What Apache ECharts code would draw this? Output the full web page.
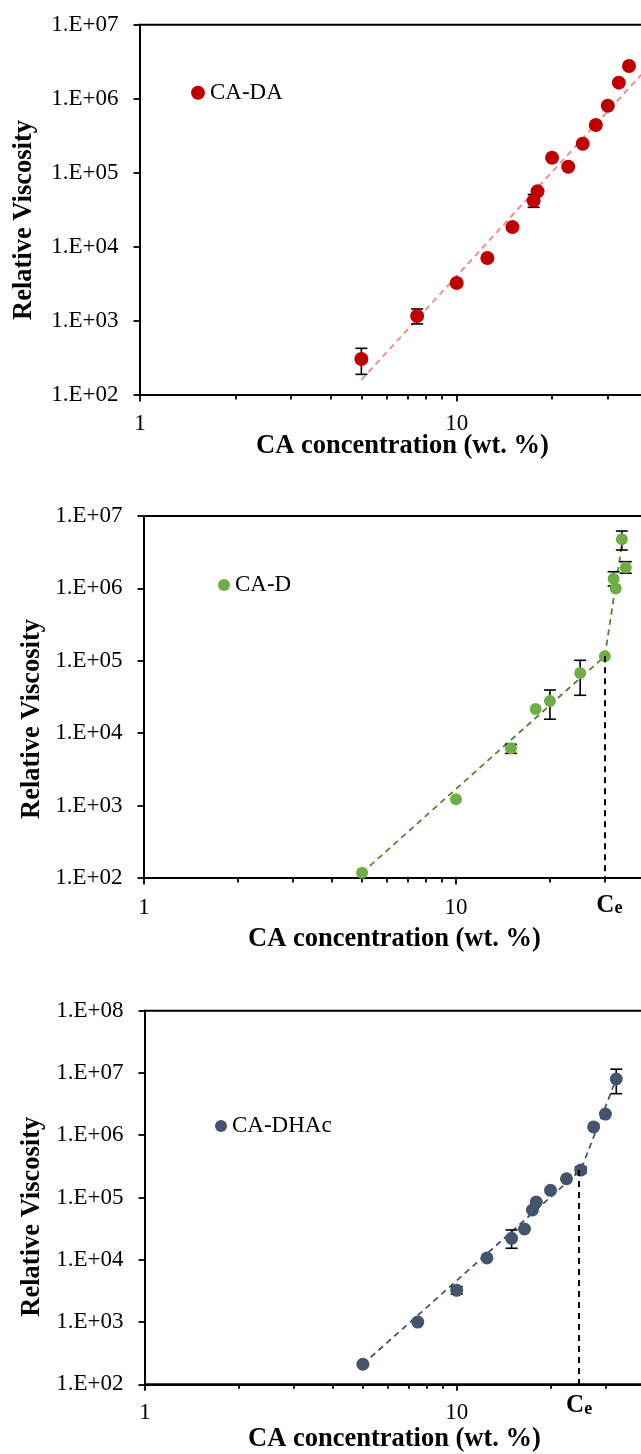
<!DOCTYPE html>
<html><head><meta charset="utf-8">
<script src="https://cdn.jsdelivr.net/npm/echarts@6/dist/echarts.min.js"></script>
<style>html,body{margin:0;padding:0;background:#fff}#c{width:641px;height:1454px}</style>
</head><body><div id="c"></div>
<script>
// ---------------- data ----------------
const xMajorTicks = [1, 10, 100];
const xMinorTicks = [2, 3, 4, 5, 6, 7, 8, 9, 20, 30, 40, 50, 60, 70, 80, 90];
const xTickLabels = [1, 10];
const yTicksA = [1e2, 1e3, 1e4, 1e5, 1e6, 1e7];
const yTicksC = [1e2, 1e3, 1e4, 1e5, 1e6, 1e7, 1e8];

// CA-DA
const daConc = [5, 7.5, 10, 12.5, 15, 17.5, 18, 20, 22.5, 25, 27.5, 30, 32.5, 35];
const daVisc = [306, 1166, 3250, 7080, 18500, 42000, 56200, 160000, 121000, 247000, 443000, 806000, 1650000, 2770000];
const daErr = [[5, 190, 427], [7.5, 910, 1450], [17.5, 34200, 51000]];
const daFit = [[5, 160], [40, 2600000]];

// CA-D
const dConc = [5, 10, 15, 18, 20, 25, 30, 32, 32.5, 34, 35];
const dVisc = [118, 1220, 6180, 21600, 27900, 67800, 116000, 1360000, 1000000, 4760000, 1950000];
const dErr = [[15, 5270, 7030], [20, 15600, 39500], [25, 33400, 101600], [32, 1080000, 1700000], [34, 3390000, 6200000], [35, 1620000, 2340000]];
const dFit = [[5, 118], [30, 116000], [34.2, 4700000]];
const dCe = [30, 116000];

// CA-DHAc
const hConc = [5, 7.5, 10, 12.5, 15, 16.5, 17.5, 18, 20, 22.5, 25, 27.5, 30, 32.5];
const hVisc = [210, 1000, 3230, 10700, 22100, 31200, 63000, 84700, 130500, 200000, 276000, 1360000, 2190000, 8000000];
const hErr = [[10, 2800, 3700], [15, 15300, 30100], [25, 245000, 310000], [32.5, 4650000, 11500000]];
const hFit = [[5, 210], [25, 276000], [32.5, 8000000]];
const hCe = [24.7, 276000];

const xTitle = 'CA concentration (wt. %)';
const yTitle = 'Relative Viscosity';

// ---------------- styles / layout ----------------
const FONT = 'Liberation Serif';
const panels = [
  { name: 'CA-DA', conc: daConc, visc: daVisc, err: daErr, fit: daFit, ce: null, yTicks: yTicksA,
    grid: { left: 140, top: 24.7, width: 633.4, height: 370.3 },
    color: '#C00000', fitColor: '#F58484', size: 14, legendSize: 14,
    legend: { left: 191, top: 81.2 }, xT: [256, 446], yT: [24.5, 220], labelMargin: 17 },
  { name: 'CA-D', conc: dConc, visc: dVisc, err: dErr, fit: dFit, ce: dCe, yTicks: yTicksA,
    grid: { left: 144, top: 516, width: 624, height: 362 },
    color: '#70AD47', fitColor: '#548235', size: 12, legendSize: 12,
    legend: { left: 218, top: 573.5 }, xT: [248, 939.5], yT: [32.5, 719], labelMargin: 18,
    ceDist: 14.6, cePad: 9 },
  { name: 'CA-DHAc', conc: hConc, visc: hVisc, err: hErr, fit: hFit, ce: hCe, yTicks: yTicksC,
    grid: { left: 145, top: 1010.7, width: 623.4, height: 373.6 },
    color: '#44546A', fitColor: '#44546A', size: 13, legendSize: 12,
    legend: { left: 215, top: 1114.5 }, xT: [248, 1439.5], yT: [32.5, 1216.7], labelMargin: 17.5,
    ceDist: 8.6, cePad: 0 }
];

function yFmt(v) {
  const e = Math.round(Math.log10(v));
  return '1.E+' + (e < 10 ? '0' : '') + e;
}

function errRender(params, api) {
  const x = api.value(0), lo = api.value(1), hi = api.value(2);
  const a = api.coord([x, lo]), b = api.coord([x, hi]);
  const cap = 6;
  const st = { stroke: '#000', lineWidth: 1.6 };
  return { type: 'group', children: [
    { type: 'line', shape: { x1: a[0], y1: a[1], x2: b[0], y2: b[1] }, style: st },
    { type: 'line', shape: { x1: a[0] - cap, y1: a[1], x2: a[0] + cap, y2: a[1] }, style: st },
    { type: 'line', shape: { x1: b[0] - cap, y1: b[1], x2: b[0] + cap, y2: b[1] }, style: st }
  ] };
}

const option = { animation: false, backgroundColor: '#fff', grid: [], xAxis: [], yAxis: [], series: [], legend: [], graphic: [] };

panels.forEach((p, i) => {
  option.grid.push(Object.assign({ show: true, borderColor: '#000', borderWidth: 2, backgroundColor: 'transparent',
    containLabel: false, outerBoundsMode: 'none' }, p.grid));
  const lineSt = { color: '#000', width: 2 };
  option.xAxis.push({
    type: 'log', logBase: 10, min: 1, max: 100, gridIndex: i, position: 'bottom',
    axisLine: { show: true, lineStyle: lineSt },
    axisTick: { show: true, length: 6.5, lineStyle: { color: '#000', width: 1.8 }, customValues: xMajorTicks },
    axisLabel: { show: true, customValues: xTickLabels, margin: p.labelMargin, fontFamily: FONT, fontSize: 23, color: '#000' },
    splitLine: { show: false }
  });
  option.xAxis.push({
    type: 'log', logBase: 10, min: 1, max: 100, gridIndex: i, position: 'bottom',
    axisLine: { show: false },
    axisTick: { show: true, length: 4.5, lineStyle: { color: '#000', width: 1.8 }, customValues: xMinorTicks },
    axisLabel: { show: false },
    splitLine: { show: false }
  });
  option.yAxis.push({
    type: 'log', logBase: 10, min: p.yTicks[0], max: p.yTicks[p.yTicks.length - 1], gridIndex: i,
    axisLine: { show: true, lineStyle: lineSt },
    axisTick: { show: true, length: 6.5, lineStyle: { color: '#000', width: 1.8 }, customValues: p.yTicks },
    axisLabel: { show: true, customValues: p.yTicks, formatter: yFmt, margin: 21.5, fontFamily: FONT, fontSize: 23, color: '#000' },
    splitLine: { show: false }
  });

  const fitSeries = {
    type: 'line', name: p.name + ' fit', xAxisIndex: i * 2, yAxisIndex: i, data: p.fit,
    symbol: 'none', silent: true, z: 1,
    lineStyle: { color: p.fitColor, width: 1.8, type: [6, 4.5] }
  };
  if (p.ce) {
    fitSeries.markLine = {
      silent: true, symbol: ['none', 'none'], animation: false,
      lineStyle: { color: '#000', width: 2, type: [6, 5] },
      label: {
        show: true, position: 'end', distance: p.ceDist,
        formatter: (p.cePad ? '{p|}' : '') + '{c|C}{e|e}',
        rich: {
          p: { width: p.cePad },
          c: { fontFamily: FONT, fontWeight: 'bold', fontSize: 25, lineHeight: 25, color: '#000' },
          e: { fontFamily: FONT, fontWeight: 'bold', fontSize: 18, lineHeight: 16, verticalAlign: 'bottom', color: '#000' }
        }
      },
      emphasis: { disabled: true },
      data: [[{ coord: [p.ce[0], p.ce[1]] }, { coord: [p.ce[0], p.yTicks[0]] }]]
    };
  }
  option.series.push(fitSeries);
  option.series.push({
    type: 'custom', name: p.name + ' err', xAxisIndex: i * 2, yAxisIndex: i, data: p.err,
    encode: { x: 0, y: [1, 2] }, renderItem: errRender, silent: true, z: 2
  });
  option.series.push({
    type: 'scatter', name: p.name, xAxisIndex: i * 2, yAxisIndex: i,
    data: p.conc.map((c, k) => [c, p.visc[k]]),
    symbol: 'circle', symbolSize: p.size, itemStyle: { color: p.color, opacity: 1 }, z: 3
  });
  option.legend.push({
    data: [p.name], left: p.legend.left, top: p.legend.top, padding: 0, itemGap: 0,
    icon: 'circle', itemWidth: p.legendSize, itemHeight: p.legendSize, selectedMode: false,
    textStyle: { fontFamily: FONT, fontSize: 23, color: '#000' }
  });
  option.graphic.push({
    type: 'text', x: p.xT[0], y: p.xT[1], silent: true,
    style: { text: xTitle, fontFamily: FONT, fontWeight: 'bold', fontSize: 26.5, fill: '#000', align: 'left', verticalAlign: 'middle' }
  });
  option.graphic.push({
    type: 'text', x: p.yT[0], y: p.yT[1], rotation: Math.PI / 2, silent: true,
    style: { text: yTitle, fontFamily: FONT, fontWeight: 'bold', fontSize: 26.5, fill: '#000', align: 'center', verticalAlign: 'middle' }
  });
});

const chart = echarts.init(document.getElementById('c'), null, { renderer: 'canvas' });
chart.setOption(option);
</script>
</body></html>
